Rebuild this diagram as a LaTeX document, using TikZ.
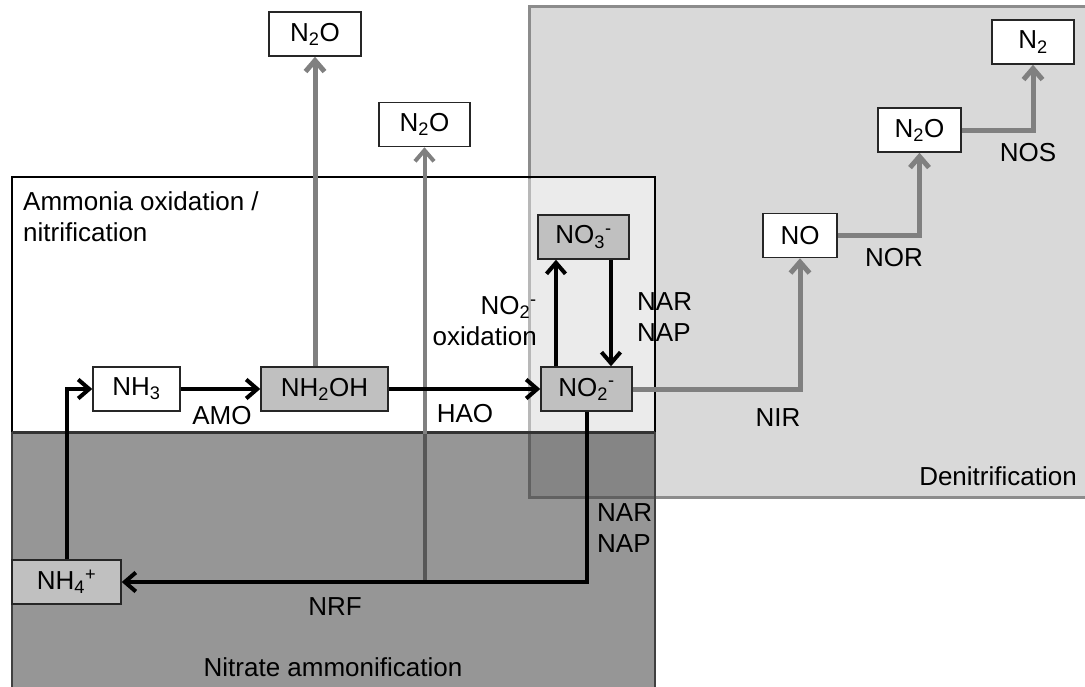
\documentclass[tikz,border=0pt]{standalone}
\usepackage{fontspec}
\setmainfont{Liberation Sans}
\usetikzlibrary{arrows.meta,calc}
\definecolor{denitfill}{HTML}{D9D9D9}
\definecolor{denitline}{HTML}{8C8C8C}
\definecolor{ammonfill}{HTML}{969696}
\definecolor{ovlight}{HTML}{EBEBEB}
\definecolor{ovdark}{HTML}{858585}
\definecolor{speciesfill}{HTML}{C0C0C0}
\definecolor{arrowgrey}{HTML}{808080}
\tikzset{
  txt/.style={font=\fontsize{26}{31}\selectfont, inner sep=0pt},
  species/.style={txt, draw=black!85, line width=1.5pt, minimum height=44pt, align=center},
  whitesp/.style={species, fill=white},
  greysp/.style={species, fill=speciesfill},
  blk/.style={line width=4pt, draw=black, -{Straight Barb[length=11pt,width=19pt]}},
  gry/.style={line width=5pt, draw=arrowgrey, -{Straight Barb[length=11pt,width=19pt]}},
  lbl/.style={txt, align=left},
}
\begin{document}
\begin{tikzpicture}[x=1pt,y=-1pt]
\useasboundingbox (0,0) rectangle (1085,686);
\clip (0,0) rectangle (1085,686);
% region fills
\fill[denitfill] (529,6) rectangle (1095,497);
\fill[white] (12,177) rectangle (655,432);
\fill[ammonfill] (12,432) rectangle (655,700);
\fill[ovlight] (529,177) rectangle (655,432);
\fill[ovdark] (529,432) rectangle (655,497);
% region borders
\draw[denitline, line width=3pt] (529,6) rectangle (1095,497);
\draw[black!28, line width=3pt] (529,179) -- (529,432);
\draw[black!62, line width=3pt] (529,432) -- (529,497) -- (655,497);
\draw[black, line width=2.5pt] (12,432) -- (12,177) -- (655,177) -- (655,432);
\draw[black!80, line width=3pt] (12,432) -- (655,432);
\draw[black!75, line width=2.5pt] (12,432) -- (12,700);
\draw[black!75, line width=2.5pt] (655,432) -- (655,700);
\coordinate (ambot) at (0,433.5);
% region titles
\node[lbl, anchor=west, align=left] (tamm) at (23,217) {Ammonia oxidation /\\nitrification};
\node[txt] (tnit) at (333,667) {Nitrate ammonification};
\node[txt] (tden) at (998,476) {Denitrification};
% species
\node[whitesp, minimum width=87pt] (nh3) at (136.5,389) {NH\textsubscript{3}};
\node[greysp, minimum width=127pt] (nh2oh) at (324.5,389) {NH\textsubscript{2}OH};
\node[greysp, minimum width=91pt] (no2) at (586.5,389) {NO\textsubscript{2}\textsuperscript{-}};
\node[greysp, minimum width=91pt] (no3) at (583.5,237) {NO\textsubscript{3}\textsuperscript{-}};
\node[greysp, minimum width=109pt] (nh4) at (66.5,582) {NH\textsubscript{4}\textsuperscript{+}};
\node[whitesp, minimum width=92pt] (n2oA) at (315,34) {N\textsubscript{2}O};
\node[whitesp, minimum width=91pt] (n2oB) at (424.5,124.5) {N\textsubscript{2}O};
\node[whitesp, minimum width=74pt] (no) at (800,235.5) {NO};
\node[whitesp, minimum width=83pt] (n2oC) at (919.5,130) {N\textsubscript{2}O};
\node[whitesp, minimum width=82pt] (n2) at (1033,42) {N\textsubscript{2}};
% grey connectors
\draw[gry] (n2oA.south |- nh2oh.north) -- (n2oA.south);
\draw[gry, line width=4pt] (n2oB.south |- nh4.east) -- (n2oB.south);
\draw[line width=4pt, black!66] (n2oB.south |- nh4.east) -- (n2oB.south |- ambot);
\draw[gry] (no2.east) -| (no.south);
\draw[gry] (no.east) -| (n2oC.south);
\draw[gry] (n2oC.east) -| (n2.south);
% black connectors
\draw[blk] (nh4.north) |- (nh3.west);
\draw[blk] (nh3.east) -- (nh2oh.west);
\draw[blk] (nh2oh.east) -- (no2.west);
\draw[blk] ([xshift=-30.5pt]no2.north) -- ([xshift=-30.5pt]no2.north |- no3.south);
\draw[blk] ([xshift=27.5pt]no3.south) -- ([xshift=27.5pt]no3.south |- no2.north);
\draw[blk] (no2.south) |- (nh4.east);
% labels
\node[txt] (amo) at (222,416) {AMO};
\node[txt] (hao) at (465,414) {HAO};
\node[lbl, anchor=east, align=right] (nox) at (537,321) {NO\textsubscript{2}\textsuperscript{-}\\oxidation};
\node[lbl, anchor=west] (narA) at (637,317) {NAR\\NAP};
\node[lbl, anchor=west] (narB) at (597,528) {NAR\\NAP};
\node[txt] (nrf) at (335,607) {NRF};
\node[txt] (nir) at (778,418) {NIR};
\node[txt] (nor) at (894,258) {NOR};
\node[txt] (nos) at (1028,153) {NOS};
\end{tikzpicture}
\end{document}
